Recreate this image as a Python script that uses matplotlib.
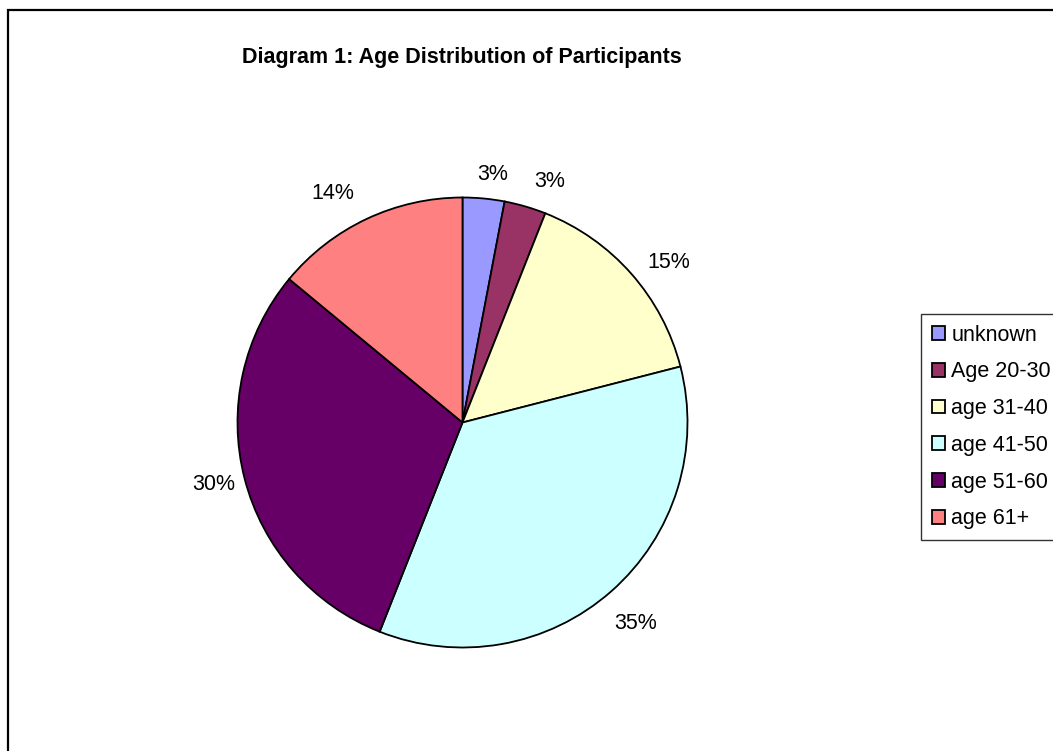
import matplotlib.pyplot as plt
from matplotlib.patches import Rectangle
import numpy as np

plt.rcParams['font.family'] = ['Liberation Sans', 'DejaVu Sans']

title = "Diagram 1: Age Distribution of Participants"
groups = ["unknown", "Age 20-30", "age 31-40", "age 41-50", "age 51-60", "age 61+"]
shares = [3, 3, 15, 35, 30, 14]
colors = ["#9999FF", "#993366", "#FFFFCC", "#CCFFFF", "#660066", "#FF8080"]
# percent label placement: distance (in radii) and clockwise nudge (deg)
label_dist = [1.11, 1.14, 1.16, 1.18, 1.14, 1.17]
label_nudge = [1.6, 3.6, 3.5, 0.6, 0.3, -4.4]

W, H = 1053, 751
fig = plt.figure(figsize=(W / 100, H / 100), dpi=100)

# outer chart border (runs off the right and bottom)
fig.patches.append(Rectangle((8 / W, -0.05), 1.2, (H - 10) / H + 0.05,
                             transform=fig.transFigure, fill=False,
                             edgecolor="black", linewidth=1.6))

cx, cy, r = 462.5, H - 422.5, 225
ax = fig.add_axes([(cx - r) / W, (cy - r) / H, 2 * r / W, 2 * r / H])
wedges, _ = ax.pie(shares, colors=colors, startangle=90, counterclock=False,
                   wedgeprops=dict(edgecolor="black", linewidth=1.3))
ax.set_xlim(-1, 1)
ax.set_ylim(-1, 1)
ax.set_aspect("equal")
ax.axis("off")

for w, v, d, n in zip(wedges, shares, label_dist, label_nudge):
    a = np.deg2rad((w.theta1 + w.theta2) / 2 - n)
    ax.text(d * np.cos(a), d * np.sin(a), f"{v}%", ha="center", va="center",
            fontsize=15.5, clip_on=False)

fig.text(462 / W, 1 - 57 / H, title, ha="center", va="center",
         fontsize=15.5, fontweight="bold")

leg = fig.legend(wedges, groups, loc="upper left",
                 bbox_to_anchor=(921 / W, 1 - 314 / H), fontsize=15.5,
                 frameon=True, fancybox=False, shadow=False,
                 handlelength=0.6, handleheight=0.6, handletextpad=0.3,
                 labelspacing=0.73, borderpad=0.5, borderaxespad=0)
leg.get_frame().set_edgecolor("black")
leg.get_frame().set_linewidth(1.0)

fig.savefig("out.png", dpi=100)
